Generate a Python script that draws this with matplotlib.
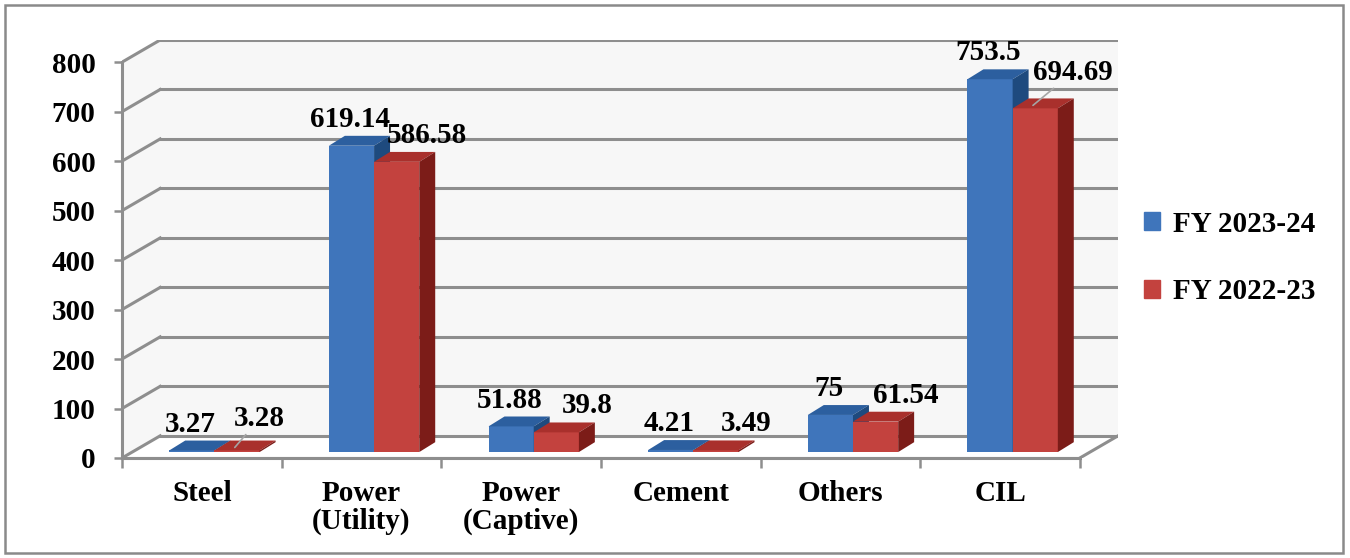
import matplotlib.pyplot as plt
from matplotlib.patches import Rectangle, Patch

# data
categories = ['Steel', 'Power\n(Utility)', 'Power\n(Captive)', 'Cement', 'Others', 'CIL']
fy2324 = [3.27, 619.14, 51.88, 4.21, 75, 753.5]
fy2223 = [3.28, 586.58, 39.8, 3.49, 61.54, 694.69]
series_names = ['FY 2023-24', 'FY 2022-23']
yticks = [0, 100, 200, 300, 400, 500, 600, 700, 800]

plt.rcParams['font.family'] = ['Liberation Serif', 'DejaVu Serif']
plt.rcParams['font.weight'] = 'bold'
FS = 21

fig = plt.figure(figsize=(13.5, 5.58), dpi=100)
W, H = 1350, 558
# outer frame
fig.patches.append(Rectangle((5 / W, 5 / H), 1338 / W, 548 / H, transform=fig.transFigure,
                             fill=False, edgecolor='#8a8a8a', lw=1.8))

ax = fig.add_axes([122 / W, (H - 458) / H, (1118 - 122) / W, (458 - 40) / H])
n = len(categories)
dx, dy = 0.239, 44.8          # depth of the wall
ax.set_xlim(-0.5, n - 0.5 + dx)
ax.set_ylim(0, 800 + dy)
ax.patch.set_alpha(0)

grid_c = '#8e8e8e'
glw = 2.2
# back wall fill
ax.fill([-0.5, -0.5 + dx, n - 0.5 + dx, n - 0.5 + dx, -0.5 + dx, -0.5],
        [0, dy, dy, 800 + dy, 800 + dy, 800], color='#f7f7f7', zorder=0, lw=0)
for v in yticks:
    ax.plot([-0.5 + dx, n - 0.5 + dx], [v + dy, v + dy], color=grid_c, lw=glw, zorder=1)
    ax.plot([-0.5, -0.5 + dx], [v, v + dy], color=grid_c, lw=glw, zorder=1)
# floor
ax.plot([n - 0.5, n - 0.5 + dx], [0, dy], color=grid_c, lw=glw, zorder=1)
ax.plot([-0.5, n - 0.5], [0, 0], color=grid_c, lw=glw, zorder=1)

# bars
bw = 0.283
bdx, bdy = 0.1, 20
base = 12
off0 = -0.204
colors = [('#3F75BB', '#2C5F9F', '#1E4A7E'), ('#C3423E', '#A9302C', '#7C1C18')]
for i in range(n):
    for s, vals in enumerate([fy2324, fy2223]):
        x0 = i + off0 + s * bw
        x1 = x0 + bw
        top = vals[i] + base
        front, topc, side = colors[s]
        ax.bar(x0, vals[i], width=bw, bottom=base, align='edge', color=front, zorder=3 + s)
        ax.fill([x0, x1, x1 + bdx, x0 + bdx], [top, top, top + bdy, top + bdy],
                color=topc, zorder=3 + s, lw=0)
        ax.fill([x1, x1, x1 + bdx, x1 + bdx], [base, top, top + bdy, base + bdy],
                color=side, zorder=3 + s, lw=0)
        lab = f'{vals[i]:g}'
        if s == 0:
            ax.annotate(lab, (x0 + bw / 2, top), xytext=(-1, 19), textcoords='offset points',
                        ha='center', va='center', fontsize=FS, fontweight='bold', zorder=10)
        else:
            if i in (0, 5):
                ax.annotate(lab, (x0 + bw * 0.45, top + bdy * 0.3),
                            xytext=(18 if i == 0 else 29, 21 if i == 0 else 24),
                            textcoords='offset points', ha='center', va='center',
                            fontsize=FS, fontweight='bold', zorder=10,
                            arrowprops=dict(arrowstyle='-', color='#a5a5a5', lw=1.2,
                                            shrinkA=0, shrinkB=0))
            else:
                ax.annotate(lab, (x0 + bw / 2, top), xytext=(22, 19), textcoords='offset points',
                            ha='center', va='center', fontsize=FS, fontweight='bold', zorder=10)

# axes
for sp in ['top', 'right']:
    ax.spines[sp].set_visible(False)
ax.spines['left'].set_bounds(0, 800)
ax.spines['bottom'].set_bounds(-0.5, n - 0.5)
ax.spines['left'].set_color(grid_c)
ax.spines['bottom'].set_color(grid_c)
ax.spines['left'].set_linewidth(glw)
ax.spines['bottom'].set_linewidth(glw)
ax.set_yticks(yticks)
ax.set_yticklabels([str(v) for v in yticks], fontsize=FS, fontweight='bold')
ax.tick_params(axis='y', length=6, width=1.8, color=grid_c, pad=13)
ax.set_xticks([i - 0.5 for i in range(n + 1)])
ax.set_xticklabels([])
ax.tick_params(axis='x', which='major', length=7, width=1.8, color=grid_c)
ax.set_xticks(range(n), minor=True)
ax.set_xticklabels(categories, minor=True, fontsize=FS, fontweight='bold', linespacing=1.0)
ax.tick_params(axis='x', which='minor', length=0, pad=16)
for t in ax.get_xticklabels(minor=True):
    t.set_va('top')

handles = [Patch(color=colors[0][0]), Patch(color=colors[1][0])]
fig.legend(handles, series_names, loc='center left', bbox_to_anchor=(1118 / W, 1 - 258 / H),
           frameon=False, handlelength=0.55, handleheight=0.55, handletextpad=0.45,
           labelspacing=1.4, prop=dict(size=FS, weight='bold'))

fig.savefig('out.png', dpi=100)
